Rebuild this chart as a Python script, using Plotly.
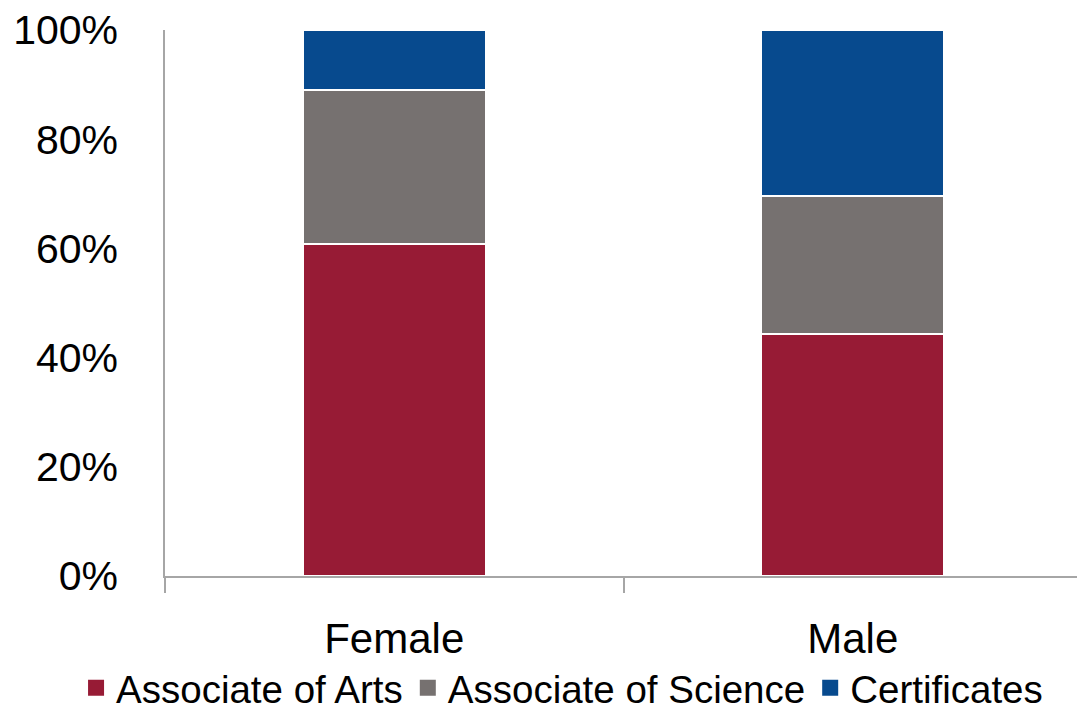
import plotly.graph_objects as go

categories = ["Female", "Male"]
series_names = ["Associate of Arts", "Associate of Science", "Certificates"]
associate_arts = [0.608, 0.443]
associate_science = [0.282, 0.253]
certificates = [0.110, 0.304]
tick_vals = [0, 0.2, 0.4, 0.6, 0.8, 1.0]
tick_text = ["0%", "20%", "40%", "60%", "80%", "100%"]

colors = ["#971B35", "#767170", "#074A8E"]
values = [associate_arts, associate_science, certificates]

font_family = "Liberation Sans, Arial, sans-serif"

fig = go.Figure()
for name, vals, col in zip(series_names, values, colors):
    fig.add_trace(go.Bar(
        x=categories, y=vals, name=name, showlegend=False,
        marker=dict(color=col, line=dict(color="white", width=1.5)),
        width=0.397,
    ))
# legend entries with larger square swatches
for name, col in zip(series_names, colors):
    fig.add_trace(go.Scatter(
        x=[None], y=[None], mode="markers", name=name,
        marker=dict(symbol="square", size=22, color=col),
    ))

fig.update_layout(
    barmode="stack",
    width=1077, height=701,
    margin=dict(l=157, r=3, t=22, b=133, autoexpand=False),
    plot_bgcolor="white", paper_bgcolor="white",
    font=dict(family=font_family, color="black", size=36),
    legend=dict(orientation="h", x=-0.097, xanchor="left",
                y=-0.147, yanchor="top",
                font=dict(size=38.5), itemwidth=30, traceorder="normal",
                itemsizing="trace"),
    bargap=0.6,
)
fig.update_xaxes(
    showline=True, linecolor="#A6A6A6", linewidth=1.5,
    ticks="outside", tickson="boundaries", ticklen=15, tickcolor="#A6A6A6", tickwidth=1.5,
    tickfont=dict(size=42), ticklabelstandoff=25, automargin=False,
)
fig.update_yaxes(
    range=[0, 1], tickvals=tick_vals, ticktext=tick_text,
    showline=True, linecolor="#A6A6A6", linewidth=1.5,
    showgrid=False, zeroline=False, ticks="", ticklabelstandoff=37,
    tickfont=dict(size=41), automargin=False, ticklabeloverflow="allow",
)

fig.write_html("out.html")
